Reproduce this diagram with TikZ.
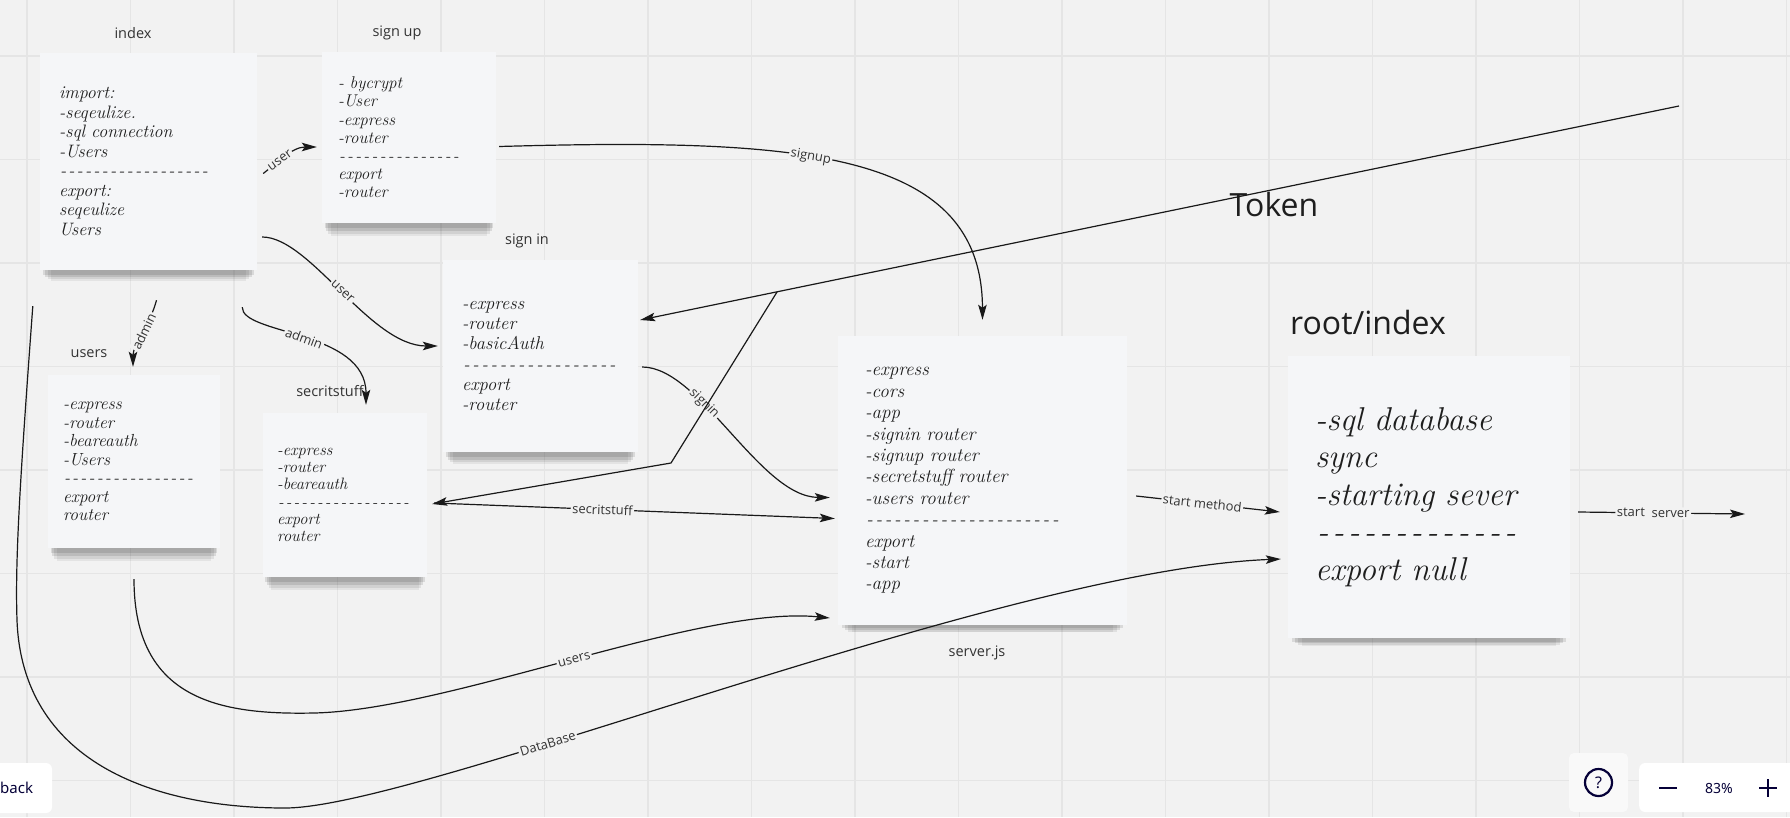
\documentclass[tikz,border=0pt]{standalone}
\usepackage{fontspec}
\usepackage{tikz}
\usetikzlibrary{arrows.meta,shadows}
\newfontfamily\labelfont{Open Sans}
\newfontfamily\uifont{Noto Sans}
\definecolor{bgcol}{HTML}{F2F2F2}
\definecolor{gridcol}{HTML}{E5E5E5}
\definecolor{notecol}{HTML}{F5F6F8}
\definecolor{txtgray}{HTML}{333333}
\definecolor{inkcol}{HTML}{1E1E1E}
\definecolor{navy}{HTML}{050038}
\newcommand{\notefont}[2]{\fontsize{#1}{#2}\selectfont\itshape}
\newcommand{\dashline}[2]{\leavevmode\hbox to #1{\xleaders\hbox to \dimexpr#1/#2\relax{\hss-\hss}\hfill}}

\begin{document}
\begin{tikzpicture}[x=1pt,y=-1pt]
\tikzstyle{note}=[rectangle, fill=notecol, align=left, inner ysep=0pt, text=inkcol,
  general shadow={fill=black, opacity=0.10, shadow scale=0.97, shadow yshift=-8pt},
  general shadow={fill=black, opacity=0.10, shadow scale=0.95, shadow yshift=-13pt},
  general shadow={fill=black, opacity=0.08, shadow scale=0.93, shadow yshift=-18pt},
  general shadow={fill=black, opacity=0.06, shadow scale=0.9, shadow yshift=-24pt}]
\tikzstyle{title}=[font=\labelfont\fontsize{14.5}{17}\selectfont, text=txtgray]
\tikzstyle{bigtitle}=[font=\labelfont\fontsize{32}{38}\selectfont, text=inkcol]
\tikzstyle{lbl}=[font=\labelfont\fontsize{13}{15}\selectfont, text=txtgray, fill=bgcol, inner sep=1.5pt, sloped]
\tikzstyle{connect}=[-{Stealth[length=15pt,width=8.5pt,inset=3pt]}, line width=1.2pt, black!90]
\tikzstyle{uibox}=[rectangle, rounded corners=6pt, fill=white]

\useasboundingbox (0,0) rectangle (1790,817);
\fill[bgcol] (0,0) rectangle (1790,817);

% board grid
\foreach \k in {0,...,17}
	\draw[gridcol, line width=1.3pt] ({27+103.5*\k},0) -- ({27+103.5*\k},817);
\foreach \k in {0,...,7}
	\draw[gridcol, line width=1.3pt] (0,{56+103.5*\k}) -- (1790,{56+103.5*\k});

% sticky notes
	\node[note, minimum width=217, minimum height=217, inner xsep=19, text width=179, font={\notefont{18}{19.5}}] (index) at (148.5,161.5)
		{import:\\ -seqeulize.\\ -sql connection\\ -Users\\ \dashline{150pt}{18}\\ export:\\ seqeulize\\ Users};
	\node[note, minimum width=174, minimum height=171, inner xsep=16, text width=142, font={\notefont{17}{18.2}}] (signup) at (409,137.5)
		{- bycrypt\\ -User\\ -express\\ -router\\ \dashline{122pt}{15}\\ export\\ -router};
	\node[note, minimum width=195, minimum height=192, inner xsep=19, text width=157, font={\notefont{18.5}{20.3}}] (signin) at (540.5,356)
		{-express\\ -router\\ -basicAuth\\ \dashline{155pt}{17}\\ export\\ -router};
	\node[note, minimum width=172, minimum height=173, inner xsep=15, text width=142, font={\notefont{17.5}{18.5}}] (users) at (134,461.5)
		{-express\\ -router\\ -beareauth\\ -Users\\ \dashline{131pt}{16}\\ export\\ router};
	\node[note, minimum width=164, minimum height=164, inner xsep=14, text width=136, font={\notefont{16.5}{17.3}}] (secrit) at (345,495)
		{-express\\ -router\\ -beareauth\\ \dashline{133pt}{17}\\ export\\ router};
	\node[note, minimum width=289, minimum height=289, inner xsep=27, text width=235, font={\notefont{19}{21.4}}] (server) at (982.5,480.5)
		{-express\\ -cors\\ -app\\ -signin router\\ -signup router\\ -secretstuff router\\ -users router\\ \dashline{195pt}{21}\\ export\\ -start\\ -app};
	\node[note, minimum width=282, minimum height=282, inner xsep=27, text width=228, font={\notefont{33}{37.5}}] (rootidx) at (1429,497)
		{-sql database\\ sync\\ -starting sever\\ \dashline{203pt}{13}\\ export null};

% titles
	\node[title] (tindex) at (133,33) {index};
	\node[title] (tsignup) at (397,33) {sign up};
	\node[title] (tsignin) at (527,241) {sign in};
	\node[title] (tusers) at (89,354) {users};
	\node[title] (tsecrit) at (330,391) {secritstuff};
	\node[title] (tserver) at (977,653) {server.js};
	\node[bigtitle] (troot) at (1368,322) {root/index};
	\node[bigtitle] (ttoken) at (1274,204) {Token};

	\coordinate (tok) at (1679,106);
	\coordinate (fork) at (777,292);
	\coordinate (kink) at (671,463);
	\coordinate (srvend) at (1745,514);

% connectors
	\draw[connect] ([shift={(6,12)}]index.east) .. controls (277,163) and (292,147) .. ([shift={(-5,9.5)}]signup.west) node[lbl,pos=0.38] {user};
	\draw[connect] ([shift={(5,75.5)}]index.east) .. controls (310,237) and (370,346) .. ([shift={(-5,-10)}]signin.west) node[lbl,pos=0.5] {user};
	\draw[connect] ([shift={(-15,37)}]index.south east) .. controls (242,335) and (366,330) .. ([shift={(21,-8)}]secrit.north) node[lbl,pos=0.5] {admin};
	\draw[connect] ([shift={(8,30)}]index.south) .. controls (150,325) and (133,345) .. ([shift={(-1,-8)}]users.north) node[lbl,pos=0.45] {admin};
	\draw[connect] ([shift={(3,9)}]signup.east) .. controls (800,138) and (982,150) .. ([shift={(0,-16)}]server.north) node[lbl,pos=0.42] {signup};
	\draw[connect] ([shift={(4,11)}]signin.east) .. controls (700,367) and (760,497) .. ([shift={(-8,17)}]server.west) node[lbl,pos=0.35] {signin};
	\draw[connect] ([shift={(7,8)}]secrit.east) -- ([shift={(-3,38)}]server.west) node[lbl,pos=0.42] {secritstuff};
	\draw[connect] ([shift={(0,31)}]users.south) .. controls (134,700) and (220,715) .. (314,713)
		.. controls (450,710) and (700,605) .. ([shift={(-8,137.5)}]server.west) node[lbl,pos=0.5] {users};
	\draw[connect] ([shift={(-7,36)}]index.south west) .. controls (20,480) and (15,560) .. (17,620)
		.. controls (22,760) and (150,808) .. (285,808)
		.. controls (420,808) and (1000,570) .. ([shift={(-7,62)}]rootidx.west) node[lbl,pos=0.34] {DataBase};
	\draw[connect] (tok) -- ([shift={(2,-36)}]signin.east);
	\draw[connect] (fork) -- (kink) -- ([shift={(5,9)}]secrit.east);
	\draw[connect] ([shift={(9,15.5)}]server.east) -- ([shift={(-8,15)}]rootidx.west) node[lbl,pos=0.46] {start method};
	\draw[connect] ([shift={(8,15)}]rootidx.east) -- (srvend) node[lbl,pos=0.45] {start~ server};

% board controls
	\node[uibox, minimum width=72, minimum height=50] (backbtn) at (16,788) {};
	\node[font=\uifont\bfseries\fontsize{15}{18}\selectfont, text=navy, anchor=west, inner sep=0pt] (backtxt) at (0,788) {back};
	\node[uibox, fill=white!55!bgcol, rounded corners=5pt, minimum width=59, minimum height=59] (helpbtn) at (1598.5,782.5) {};
	\draw[navy, line width=2.2pt] (helpbtn.center) circle (13.5);
	\node[font=\uifont\bfseries\fontsize{16}{18}\selectfont, text=navy] (helptxt) at (helpbtn.center) {?};
	\node[uibox, anchor=west, minimum width=170, minimum height=49] (zoombox) at (1639,787.5) {};
	\node[font=\uifont\fontsize{14}{16}\selectfont, text=navy] (zoomtxt) at (1719,788) {83\%};
	\draw[navy, line width=2.2pt] (1659,788) -- (1677,788);
	\draw[navy, line width=2.2pt] (1759,788) -- (1777,788) (1768,779) -- (1768,797);

\end{tikzpicture}
\end{document}
